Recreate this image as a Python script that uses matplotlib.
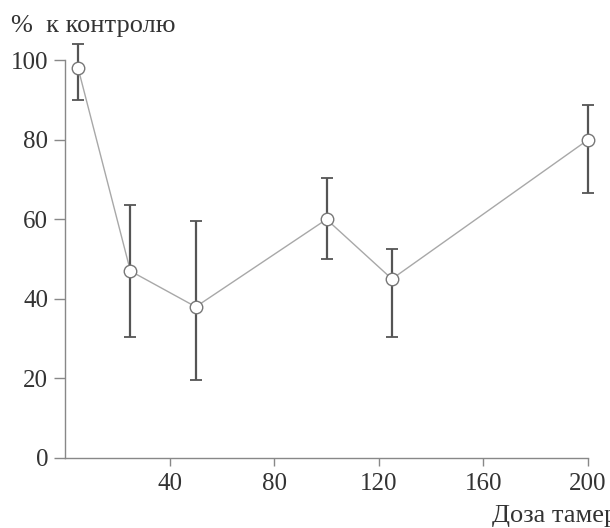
import matplotlib
matplotlib.use("Agg")
import matplotlib.pyplot as plt

# dose values and response (% of control)
dose = [5, 25, 50, 100, 125, 200]
response = [98, 47, 38, 60, 45, 80]
err_low = [8, 16.5, 18.5, 10, 14.5, 13.5]
err_high = [6, 16.5, 21.5, 10.5, 7.5, 8.7]

x_ticks = [40, 80, 120, 160, 200]
y_ticks = [0, 20, 40, 60, 80, 100]

plt.rcParams['font.family'] = ['Liberation Serif', 'DejaVu Serif']

fig = plt.figure(figsize=(6.1, 5.28), dpi=100)
ax = fig.add_axes([0.1066, 0.1326, 0.8574, 0.7534])

ax.plot(dose, response, color='#a8a8a8', lw=1.0, zorder=2, clip_on=False)
ax.errorbar(dose, response, yerr=[err_low, err_high], fmt='none',
            ecolor='#555555', elinewidth=1.6, capsize=4, capthick=1.3,
            zorder=3, clip_on=False)
ax.plot(dose, response, 'o', ms=9, mfc='white', mec='#777777', mew=1.0,
        zorder=4, clip_on=False)

ax.set_xlim(0, 200)
ax.set_ylim(0, 100)
ax.set_xticks(x_ticks)
ax.set_yticks(y_ticks)

for s in ['top', 'right']:
    ax.spines[s].set_visible(False)
for s in ['left', 'bottom']:
    ax.spines[s].set_color('#888888')
    ax.spines[s].set_linewidth(1.0)

ax.tick_params(axis='both', colors='#888888', labelcolor='#333333',
               labelsize=18, direction='out', width=1.0)
ax.tick_params(axis='y', length=8, pad=4)
ax.tick_params(axis='x', length=6, pad=5)

fig.text(11 / 610, 1 - 26 / 528, '%  к контролю', fontsize=19,
         color='#333333', va='center', ha='left')
fig.text(492 / 610, 1 - 516 / 528, 'Доза тамерона, мг/кг', fontsize=19,
         color='#333333', va='center', ha='left')

fig.savefig('out.png', dpi=100)
